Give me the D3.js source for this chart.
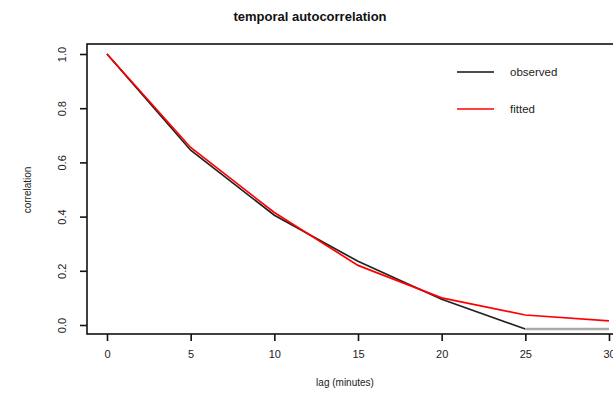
<!DOCTYPE html>
<html><head><meta charset="utf-8">
<script src="https://cdn.jsdelivr.net/npm/d3@7"></script>
<style>body{margin:0;background:#fff}svg{display:block}text{font-family:"Liberation Sans",Arial,sans-serif}</style>
</head><body>
<svg id="c" width="613" height="393"></svg>
<script>
const lags = [0, 5, 10, 15, 20, 25, 30];
const observed = [1.0, 0.645, 0.405, 0.235, 0.095, -0.015, -0.015];
const fitted = [1.0, 0.655, 0.415, 0.22, 0.1, 0.037, 0.015];
const xTicks = [0, 5, 10, 15, 20, 25, 30];
const yTicks = [0.0, 0.2, 0.4, 0.6, 0.8, 1.0];
const legendLabels = ["observed", "fitted"];

const svg = d3.select("#c");
const x = d3.scaleLinear().domain([0, 30]).range([107, 609]);
const y = d3.scaleLinear().domain([0, 1]).range([325, 54]);
const box = {l: 87, t: 44, r: 640, b: 334};

svg.append("rect").attr("x", box.l).attr("y", box.t).attr("width", box.r - box.l).attr("height", box.b - box.t)
  .attr("fill", "none").attr("stroke", "#111").attr("stroke-width", 1.6);

// x axis
const xa = svg.append("g").attr("transform", `translate(0,${box.b})`)
  .call(d3.axisBottom(x).tickValues(xTicks).tickFormat(d3.format("d")).tickSize(7).tickPadding(9));
xa.select(".domain").remove();
xa.selectAll("line").attr("stroke", "#111").attr("stroke-width", 1.6);
xa.selectAll("text").attr("font-size", 11).attr("fill", "#222");

// y axis
const ya = svg.append("g").attr("transform", `translate(${box.l},0)`)
  .call(d3.axisLeft(y).tickValues(yTicks).tickFormat(d3.format(".1f")).tickSize(7).tickPadding(0));
ya.select(".domain").remove();
ya.selectAll("line").attr("stroke", "#111").attr("stroke-width", 1.6);
ya.selectAll("text").attr("font-size", 11).attr("fill", "#222")
  .attr("x", null).attr("dy", null)
  .attr("text-anchor", "middle")
  .attr("transform", "translate(-25,0) rotate(-90)")
  .attr("dy", "0.35em");

const line = d3.line().x((d, i) => x(lags[i])).y(d => y(d));

// observed
const obsIdx = lags.map((_, i) => i);
svg.append("path").datum(observed.slice(0, 6))
  .attr("d", line).attr("fill", "none").attr("stroke", "#222").attr("stroke-width", 1.7);
svg.append("path").datum(obsIdx.slice(5))
  .attr("d", d3.line().x(i => x(lags[i])).y(i => y(observed[i])))
  .attr("fill", "none").attr("stroke", "#aaa").attr("stroke-width", 2.6);

// fitted
svg.append("path").datum(fitted)
  .attr("d", line).attr("fill", "none").attr("stroke", "#f00").attr("stroke-width", 1.7);

// legend
const lg = svg.append("g");
const legendColors = ["#111", "#f00"];
legendLabels.forEach((t, i) => {
  const yy = 72 + i * 37;
  lg.append("line").attr("x1", 457).attr("x2", 494).attr("y1", yy).attr("y2", yy)
    .attr("stroke", legendColors[i]).attr("stroke-width", 1.6);
  lg.append("text").attr("x", 510).attr("y", yy).attr("dy", "0.35em")
    .attr("font-size", 11.5).attr("fill", "#222").text(t);
});

// title & labels
svg.append("text").attr("x", 310).attr("y", 21).attr("text-anchor", "middle")
  .attr("font-size", 13).attr("font-weight", "bold").attr("fill", "#111").text("temporal autocorrelation");
svg.append("text").attr("x", 345).attr("y", 386).attr("text-anchor", "middle")
  .attr("font-size", 10).attr("fill", "#222").text("lag (minutes)");
svg.append("text").attr("transform", "translate(31,190) rotate(-90)").attr("text-anchor", "middle")
  .attr("font-size", 10).attr("fill", "#222").text("correlation");
</script>
</body></html>
